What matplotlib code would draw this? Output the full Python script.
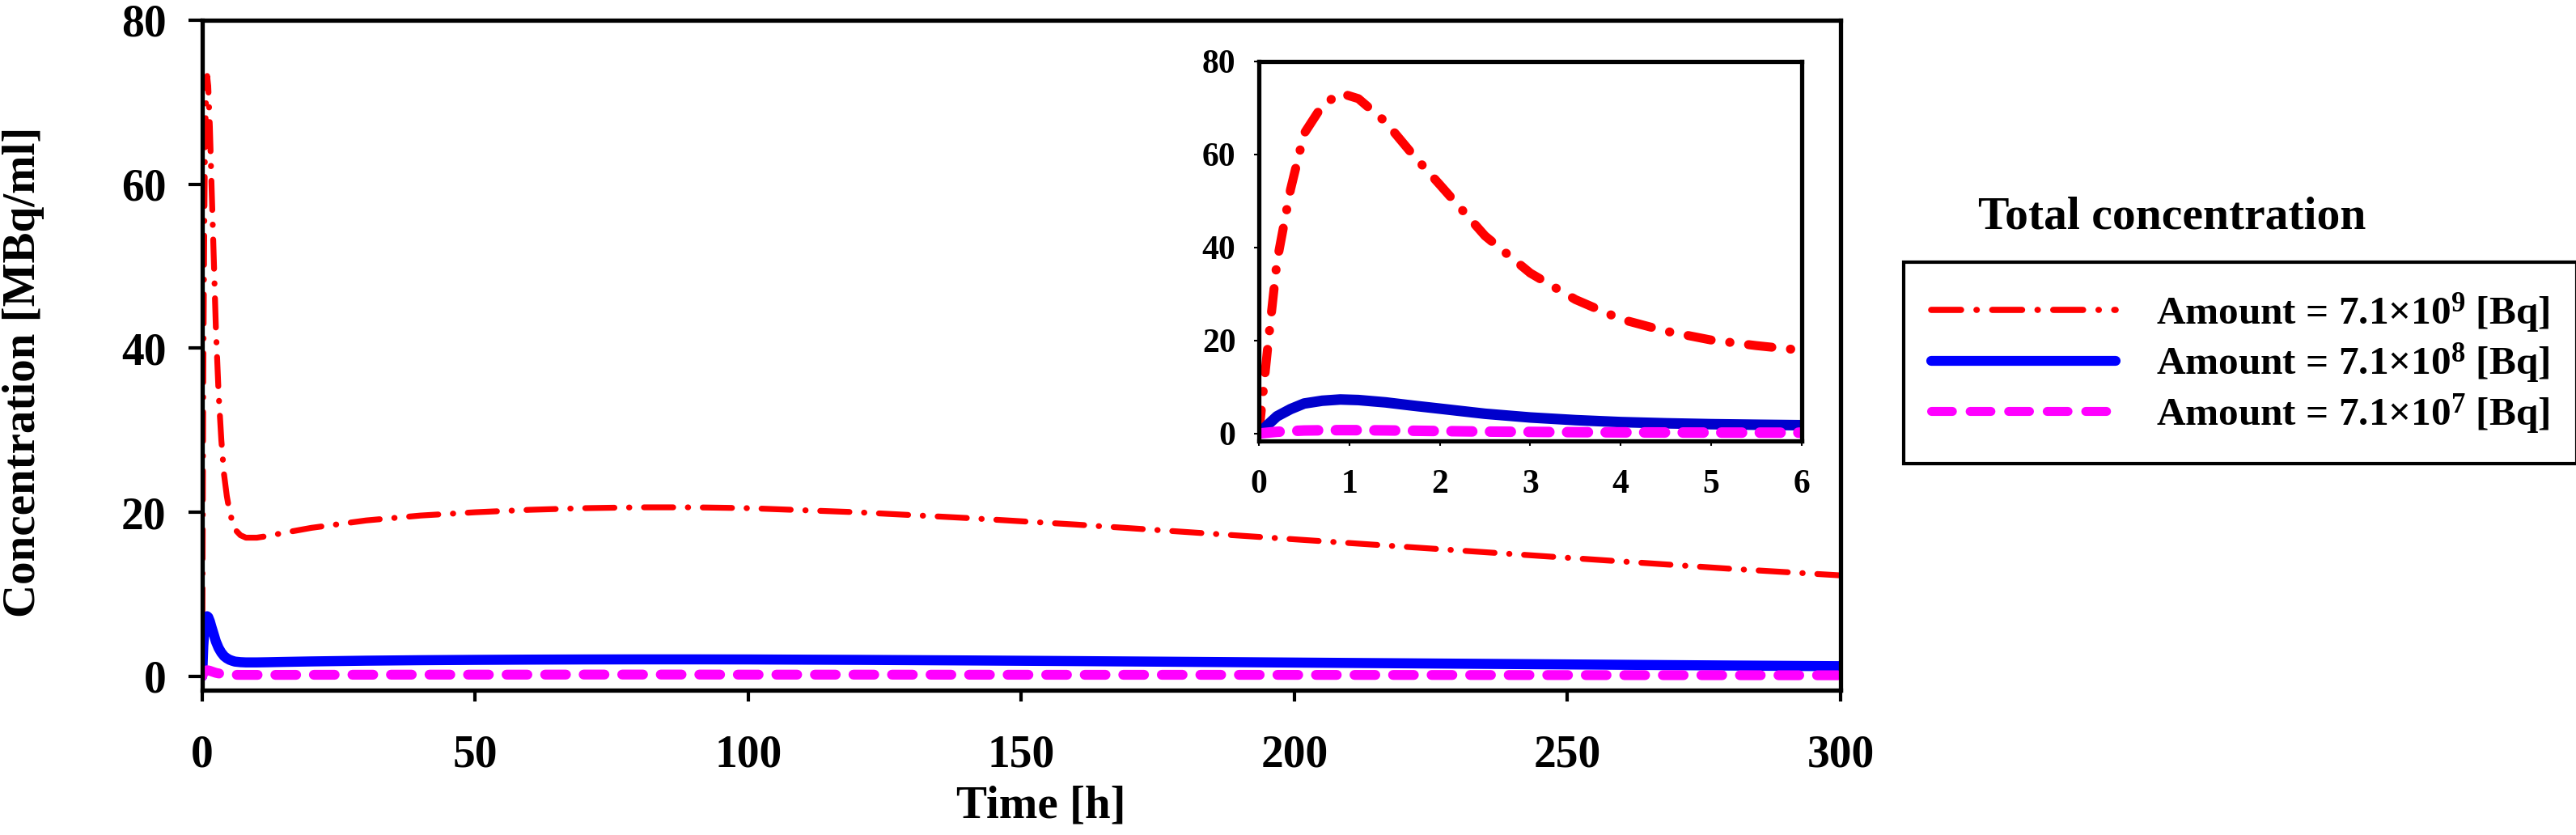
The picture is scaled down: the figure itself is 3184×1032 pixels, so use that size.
import matplotlib
matplotlib.use('Agg')
import matplotlib.pyplot as plt
from matplotlib.lines import Line2D

# time points [h] and concentration [MBq/ml]
time_h = [0, 0.1, 0.2, 0.35, 0.5, 0.7, 0.9, 1.1, 1.4, 1.7, 2.0, 2.5, 3.0, 3.5,
          4.0, 4.5, 5.0, 5.5, 6.0, 7, 8, 10, 12, 15, 20, 30, 40, 50, 60, 70,
          80, 90, 100, 120, 140, 160, 180, 200, 220, 240, 260, 280, 300]

conc_7_1e9 = [0, 19.0, 37.0, 52.5, 64.5, 70.5, 73.2, 72.0, 67.0, 60.0, 53.5,
              42.5, 34.5, 28.8, 24.6, 22.0, 20.1, 18.9, 17.9, 17.2, 16.9,
              16.9, 17.1, 17.5, 18.1, 19.0, 19.6, 20.0, 20.3, 20.5, 20.6,
              20.6, 20.5, 20.0, 19.3, 18.5, 17.6, 16.7, 15.8, 14.9, 14.0,
              13.1, 12.3]

conc_7_1e8 = [0, 1.9, 3.7, 5.25, 6.45, 7.05, 7.32, 7.2, 6.7, 6.0, 5.35, 4.25,
              3.45, 2.88, 2.46, 2.2, 2.01, 1.89, 1.79, 1.72, 1.69, 1.69, 1.71,
              1.75, 1.81, 1.9, 1.96, 2.0, 2.03, 2.05, 2.06, 2.06, 2.05, 2.0,
              1.93, 1.85, 1.76, 1.67, 1.58, 1.49, 1.4, 1.31, 1.23]

conc_7_1e7 = [0, 0.19, 0.37, 0.52, 0.65, 0.7, 0.73, 0.72, 0.67, 0.6, 0.53,
              0.42, 0.35, 0.29, 0.25, 0.22, 0.2, 0.19, 0.18, 0.17, 0.17, 0.17,
              0.17, 0.17, 0.18, 0.19, 0.2, 0.2, 0.2, 0.21, 0.21, 0.21, 0.2,
              0.2, 0.19, 0.18, 0.18, 0.17, 0.16, 0.15, 0.14, 0.13, 0.12]

labels = ['Amount = 7.1×10$^{9}$ [Bq]',
          'Amount = 7.1×10$^{8}$ [Bq]',
          'Amount = 7.1×10$^{7}$ [Bq]']

plt.rcParams['font.family'] = ['Liberation Serif', 'DejaVu Serif']
plt.rcParams['font.weight'] = 'bold'
plt.rcParams['mathtext.fontset'] = 'custom'
plt.rcParams['mathtext.rm'] = 'Liberation Serif:bold'
plt.rcParams['mathtext.it'] = 'Liberation Serif:bold:italic'
plt.rcParams['mathtext.bf'] = 'Liberation Serif:bold'
plt.rcParams['lines.scale_dashes'] = False

# dash patterns in points (visible dash/gap depend on the line width)
dashdot_main = (26.0, 13.0, 0.3, 13.0)
dashdot_inset = (20.9, 16.6, 0.3, 16.6)
dashdot_leg = (26.6, 13.7, 0.3, 13.7)
dashed = (18.5, 15.8)

fig = plt.figure(figsize=(31.84, 10.32), dpi=100)

# main axes
ax = fig.add_axes([0.0785, 0.1734, 0.636, 0.8024])
ax.plot(time_h, conc_7_1e9, color='red', lw=5.2, dashes=dashdot_main,
        dash_capstyle='round')
ax.plot(time_h, conc_7_1e8, color='blue', lw=9, solid_capstyle='round')
ax.plot(time_h, conc_7_1e7, color='magenta', lw=8.8, dashes=dashed,
        dash_capstyle='round')
ax.set_xlim(0, 300)
ax.set_ylim(-1.7, 80)
ax.set_xticks([0, 50, 100, 150, 200, 250, 300])
ax.set_yticks([0, 20, 40, 60, 80])
for s in ax.spines.values():
    s.set_linewidth(3.8)
ax.tick_params(axis='y', direction='out', length=12, width=3, pad=20,
               labelsize=40)
ax.tick_params(axis='x', direction='out', length=10, width=3, pad=29.5,
               labelsize=40)
ax.set_xlabel('Time [h]', fontsize=41, fontweight='bold')
ax.xaxis.set_label_coords(0.512, -0.142)
ax.set_ylabel('Concentration [MBq/ml]', fontsize=41, fontweight='bold')
ax.yaxis.set_label_coords(-0.0963, 0.475)

# inset: first 6 hours
ins = fig.add_axes([0.4887, 0.4719, 0.2107, 0.4545])
ins.plot(time_h, conc_7_1e9, color='red', lw=8, dashes=dashdot_inset,
         dash_capstyle='round')
ins.plot(time_h, conc_7_1e8, color='#0000cc', lw=9.4, solid_capstyle='round')
ins.plot(time_h, conc_7_1e7, color='magenta', lw=9.4, dashes=dashed,
         dash_capstyle='round')
ins.set_xlim(0, 6)
ins.set_ylim(-1.6, 80)
ins.set_xticks(range(7))
ins.set_yticks([0, 20, 40, 60, 80])
for s in ins.spines.values():
    s.set_linewidth(3.8)
ins.tick_params(direction='out', length=4.5, width=1.5, labelsize=30)
ins.tick_params(axis='y', pad=16)
ins.tick_params(axis='x', pad=21)

# legend
handles = [
    Line2D([], [], color='red', lw=5.5, dashes=dashdot_leg,
           dash_capstyle='round'),
    Line2D([], [], color='blue', lw=8.8, solid_capstyle='round'),
    Line2D([], [], color='magenta', lw=8, dashes=dashed,
           dash_capstyle='round'),
]
leg = fig.legend(handles, labels, loc='upper left',
                 bbox_to_anchor=(0.739, 0.6856), fontsize=35.5, frameon=True,
                 fancybox=False, edgecolor='black', framealpha=1,
                 handlelength=4.62, handletextpad=1.0, borderpad=0.7,
                 labelspacing=0.15, borderaxespad=0)
leg.get_frame().set_linewidth(3)
fig.text(0.8433, 0.7267, 'Total concentration', fontsize=41.5,
         fontweight='bold', ha='center', va='baseline')

fig.savefig('out.png', dpi=100)
